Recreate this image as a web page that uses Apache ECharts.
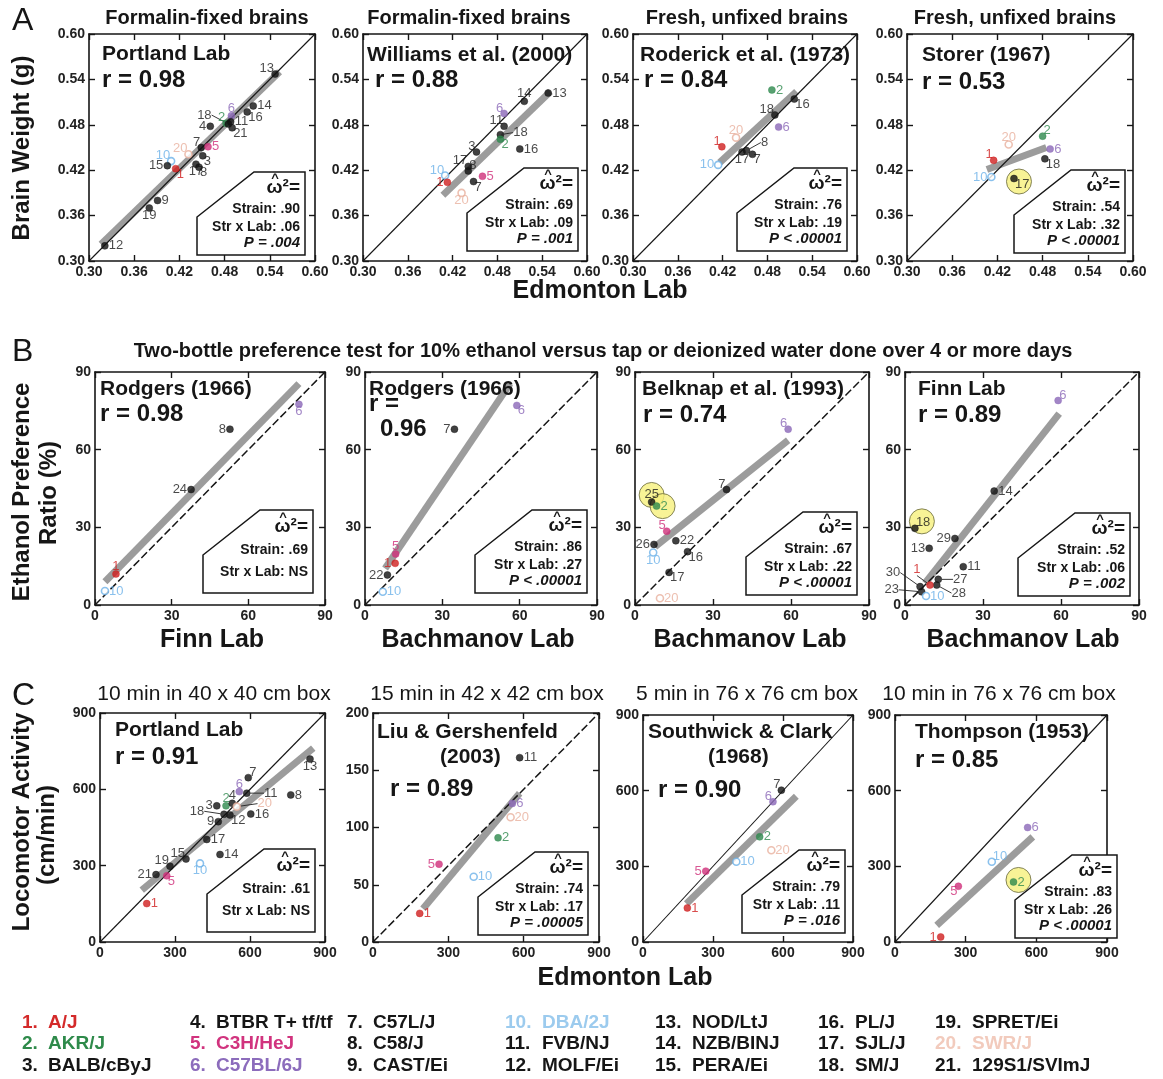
<!DOCTYPE html>
<html><head><meta charset="utf-8">
<script src="https://cdn.jsdelivr.net/npm/echarts/dist/echarts.min.js"></script>
<style>html,body{margin:0;padding:0;background:#fff}#c{width:1163px;height:1079px}</style>
</head><body><div id="c"></div>
<script>
// ---------------- DATA ----------------
// [strain, x (reference lab), y (other lab)]
const A1_pts = [[13,0.547,0.547],[14,0.518,0.505],[16,0.510,0.497],[6,0.489,0.492],[2,0.482,0.482],[11,0.488,0.484],[21,0.490,0.476],[18,0.485,0.481],[4,0.461,0.478],[7,0.449,0.450],[5,0.458,0.451],[20,0.432,0.441],[3,0.451,0.439],[10,0.409,0.432],[15,0.404,0.426],[1,0.415,0.422],[17,0.442,0.428],[8,0.446,0.424],[9,0.391,0.380],[19,0.380,0.370],[12,0.321,0.320]];
const A2_pts = [[13,0.548,0.522],[14,0.516,0.511],[6,0.489,0.495],[11,0.489,0.478],[18,0.484,0.467],[2,0.484,0.461],[16,0.510,0.448],[3,0.452,0.444],[17,0.441,0.425],[8,0.441,0.419],[5,0.460,0.412],[7,0.448,0.405],[10,0.410,0.413],[1,0.413,0.404],[20,0.432,0.390]];
const A3_pts = [[2,0.486,0.526],[16,0.516,0.514],[18,0.490,0.493],[6,0.495,0.477],[20,0.438,0.463],[1,0.419,0.451],[8,0.452,0.446],[7,0.460,0.441],[17,0.446,0.444],[10,0.414,0.427]];
const A4_pts = [[2,0.480,0.465],[6,0.490,0.448],[20,0.435,0.454],[1,0.415,0.433],[18,0.483,0.435],[10,0.412,0.411],[17,0.442,0.409]];
const B1_pts = [[6,79.8,77.5],[8,52.8,67.9],[24,37.6,44.6],[1,8.2,12.0],[10,3.9,5.4]];
const B2_pts = [[6,58.9,77.1],[7,34.7,67.9],[5,11.9,19.7],[1,11.7,16.1],[22,8.7,11.6],[10,6.9,5.1]];
const B3_pts = [[6,58.9,67.9],[7,35.2,44.6],[25,6.4,39.8],[2,8.3,38.2],[5,12.2,28.5],[26,7.3,23.4],[22,15.7,24.8],[10,7.0,20.3],[16,20.2,20.6],[17,13.1,12.6],[20,9.6,2.6]];
const B4_pts = [[6,58.9,79.0],[14,34.3,44.0],[18,3.8,29.6],[29,19.2,25.7],[13,9.3,21.9],[11,22.4,14.8],[27,12.8,9.9],[28,12.2,7.7],[1,9.6,7.7],[30,5.8,7.1],[23,6.4,5.1],[10,8.1,3.5]];
const C1_pts = [[13,840,719],[7,593,646],[8,763,578],[6,557,591],[11,587,585],[2,504,535],[4,529,545],[3,467,535],[20,547,532],[18,496,502],[12,520,499],[16,603,503],[9,473,473],[17,427,403],[15,344,326],[14,480,344],[19,280,298],[10,400,309],[21,224,265],[5,267,260],[1,187,151]];
const C2_pts = [[11,584,161],[6,555,121],[20,548,109],[2,498,91],[5,263,68],[10,401,57],[1,186,25]];
const C3_pts = [[7,593,602],[6,557,556],[2,500,417],[20,550,364],[10,400,318],[5,269,281],[1,190,135]];
const C4_pts = [[6,563,454],[10,411,318],[2,503,238],[5,269,221],[1,194,20]];

// regression (gray band) end points
const A1_fit = [[0.316,0.322],[0.553,0.550]];
const A2_fit = [[0.407,0.387],[0.551,0.524]];
const A3_fit = [[0.416,0.430],[0.519,0.524]];
const A4_fit = [[0.406,0.421],[0.485,0.450]];
const B1_fit = [[3.9,9.0],[79.8,85.5]];
const B2_fit = [[7.8,14.1],[56.3,85.5]];
const B3_fit = [[7.7,22.5],[58.9,63.6]];
const B4_fit = [[7.7,8.4],[59.3,73.9]];
const C1_fit = [[167,204],[853,762]];
const C2_fit = [[199,29],[584,130]];
const C3_fit = [[186,152],[657,578]];
const C4_fit = [[177,66],[585,417]];

// highlighted (yellow) strains
const A4_hl = [17];
const B3_hl = [25, 2];
const B4_hl = [18];
const C4_hl = [2];

// axis ranges [min, max, interval]
const rangeBrain = [0.30, 0.60, 0.06];
const rangeEthanol = [0, 90, 30];
const rangeLoco = [0, 900, 300];
const rangeLiuY = [0, 200, 50];

// texts
const panelNames = ['Portland Lab','Williams et al. (2000)','Roderick et al. (1973)','Storer (1967)',
  'Rodgers (1966)','Rodgers (1966)','Belknap et al. (1993)','Finn Lab',
  'Portland Lab','Liu & Gershenfeld|(2003)','Southwick & Clark|(1968)','Thompson (1953)'];
const rValues = ['0.98','0.88','0.84','0.53','0.98','0.96','0.74','0.89','0.91','0.89','0.90','0.85'];
const omegaStrain = ['.90','.69','.76','.54','.69','.86','.67','.52','.61','.74','.79','.83'];
const omegaStrLab = ['.06','.09','.19','.32','NS','.27','.22','.06','NS','.17','.11','.26'];
const pTexts = ['P = .004','P = .001','P < .00001','P < .00001','','P < .00001','P < .00001','P = .002','','P = .00005','P = .016','P < .00001'];
const rowASubtitles = ['Formalin-fixed brains','Formalin-fixed brains','Fresh, unfixed brains','Fresh, unfixed brains'];
const rowCSubtitles = ['10 min in 40 x 40 cm box','15 min in 42 x 42 cm box','5 min in 76 x 76 cm box','10 min in 76 x 76 cm box'];
const rowBHeader = 'Two-bottle preference test for 10% ethanol versus tap or deionized water done over 4 or more days';
const rowBXTitles = ['Finn Lab','Bachmanov Lab','Bachmanov Lab','Bachmanov Lab'];
const strainNames = ['A/J','AKR/J','BALB/cByJ','BTBR T+ tf/tf','C3H/HeJ','C57BL/6J','C57L/J','C58/J','CAST/Ei','DBA/2J','FVB/NJ','MOLF/Ei','NOD/LtJ','NZB/BINJ','PERA/Ei','PL/J','SJL/J','SM/J','SPRET/Ei','SWR/J','129S1/SVImJ'];

// ---------------- STYLE / LAYOUT ----------------
const FONT = '"Liberation Sans", Arial, Helvetica, sans-serif';
const pointColor = {1:'#d01f1f',2:'#2e8a4d',5:'#cf2f7b',6:'#8b68b8',10:'#6db2e8',20:'#e9b09d'};
const legendColor = {1:'#d42a2a',2:'#2e8a4a',5:'#d1337e',6:'#8c6cbc',10:'#9ccbee',20:'#f2cbbd'};
const hollow = {10:true, 20:true};

// label placement codes per strain
const A1_lab = {13:'tl',14:'r',16:'br',6:'t',2:'tl',11:'r',21:'br',18:[-24,-9],4:'l',7:'tl',5:'r',20:'tl',3:'br',10:'tl',15:'l',1:'br',17:'b',8:'br',9:'r',19:'b',12:'r'};
const A2_lab = {13:'r',14:'t',6:'tl',11:'tl',18:[20,-2],2:'br',16:'r',3:'tl',17:'tl',8:'tr',5:'r',7:'br',10:'tl',1:'l',20:'b'};
const A3_lab = {2:'r',16:'br',18:'tl',6:'r',20:'t',1:'tl',8:[18,-8],7:'br',17:'b',10:'l'};
const A4_lab = {2:'tr',6:'r',20:'t',1:'tl',18:'br',10:'l',17:'br'};
const B1_lab = {6:'b',8:'l',24:'l',1:'t',10:'r'};
const B2_lab = {6:'br',7:'l',5:'t',1:'l',22:'l',10:'r'};
const B3_lab = {6:'tl',7:'tl',25:'t',2:'r',5:'tl',26:'l',22:'r',10:'b',16:'br',17:'br',20:'r'};
const B4_lab = {6:'tr',14:'r',18:'tr',29:'l',13:'l',11:'r',27:[22,0],28:[22,8],1:[-13,-16],30:[-27,-14],23:[-30,-2],10:'r'};
const C1_lab = {13:'b',7:'tr',8:'r',6:'t',11:[24,0],2:'t',4:'t',3:'l',20:[28,-3],18:[-27,-3],12:'br',16:'r',9:'l',17:'r',15:'tl',14:'r',19:'tl',10:'b',21:'l',5:'br',1:'r'};
const C2_lab = {11:'r',6:'r',20:'r',2:'r',5:'l',10:'r',1:'r'};
const C3_lab = {7:'tl',6:'tl',2:'r',20:'r',10:'r',5:'l',1:'r'};
const C4_lab = {6:'r',10:'tr',2:'r',5:'bl',1:'l'};

const panels = [
 {rect:[89,34,226,227], xr:rangeBrain, yr:rangeBrain, dec:2, pts:A1_pts, fit:A1_fit, lab:A1_lab, hl:[], hlOff:{}, dash:false, box:[10,6,108], tl:[[13,20.5]], rl:[[13,46]]},
 {rect:[363,34,224,227], xr:rangeBrain, yr:rangeBrain, dec:2, pts:A2_pts, fit:A2_fit, lab:A2_lab, hl:[], hlOff:{}, dash:false, box:[9,10,111], tl:[[4,21.5]], rl:[[12,46]]},
 {rect:[633,34,224,227], xr:rangeBrain, yr:rangeBrain, dec:2, pts:A3_pts, fit:A3_fit, lab:A3_lab, hl:[], hlOff:{}, dash:false, box:[10,10,110], tl:[[7,21.5]], rl:[[11,46]]},
 {rect:[907,34,226,227], xr:rangeBrain, yr:rangeBrain, dec:2, pts:A4_pts, fit:A4_fit, lab:A4_lab, hl:A4_hl, hlOff:{17:[5,3]}, dash:false, box:[8,8,111], tl:[[15,21.5]], rl:[[15,48]]},
 {rect:[95,372,230,233], xr:rangeEthanol, yr:rangeEthanol, dec:0, pts:B1_pts, fit:B1_fit, lab:B1_lab, hl:[], hlOff:{}, dash:true, box:[12,12,110], tl:[[5,17.5]], rl:[[5,42]]},
 {rect:[365,372,232,233], xr:rangeEthanol, yr:rangeEthanol, dec:0, pts:B2_pts, fit:B2_fit, lab:B2_lab, hl:[], hlOff:{}, dash:true, box:[10,12,112], tl:[[4,17.5]], rl:[[4,32],[15,57]]},
 {rect:[635,372,234,233], xr:rangeEthanol, yr:rangeEthanol, dec:0, pts:B3_pts, fit:B3_fit, lab:B3_lab, hl:B3_hl, hlOff:{25:[0,-7],2:[6,0]}, dash:true, box:[12,10,111], tl:[[7,17.5]], rl:[[8,43]]},
 {rect:[905,372,234,233], xr:rangeEthanol, yr:rangeEthanol, dec:0, pts:B4_pts, fit:B4_fit, lab:B4_lab, hl:B4_hl, hlOff:{18:[7,-7]}, dash:true, box:[9,9,112], tl:[[13,17.5]], rl:[[13,43]]},
 {rect:[100,713,225,229], xr:rangeLoco, yr:rangeLoco, dec:0, pts:C1_pts, fit:C1_fit, lab:C1_lab, hl:[], hlOff:{}, dash:false, box:[10,10,108], tl:[[15,17.5]], rl:[[15,44]]},
 {rect:[373,713,226,229], xr:rangeLoco, yr:rangeLiuY, dec:0, pts:C2_pts, fit:C2_fit, lab:C2_lab, hl:[], hlOff:{}, dash:true, box:[11,7,110], tl:[[4,19.5],[67,44.5]], rl:[[17,76]]},
 {rect:[643,715,210,227], xr:rangeLoco, yr:rangeLoco, dec:0, pts:C3_pts, fit:C3_fit, lab:C3_lab, hl:[], hlOff:{}, dash:false, box:[8,9,103], tl:[[5,17.5],[65,42.5]], rl:[[15,75]]},
 {rect:[895,715,212,227], xr:rangeLoco, yr:rangeLoco, dec:0, pts:C4_pts, fit:C4_fit, lab:C4_lab, hl:C4_hl, hlOff:{2:[5,-2]}, dash:false, box:[-10,4,102], tl:[[20,17.5]], rl:[[20,45]]}
];

// ---------------- BUILD ----------------
const grids = [], xAxes = [], yAxes = [], series = [], gfx = [];
const ink = '#161616';

function txt(x, y, text, o) {
  o = o || {};
  const align = o.align || 'left', va = o.va || 'middle';
  return {type:'text', x:x, y:y, rotation:o.rot || 0, z:100, silent:true,
    style:{text:text, fill:o.color || ink,
      font:(o.italic ? 'italic ' : '') + (o.weight || 'bold') + ' ' + (o.size || 14) + 'px ' + FONT,
      textAlign:align, align:align, textVerticalAlign:va, verticalAlign:va}};
}

function axis(dim, pos, gi, r, dec, showLabel) {
  return {gridIndex:gi, type:'value', position:pos, min:r[0], max:r[1], interval:r[2],
    axisLine:{show:true, onZero:false, lineStyle:{color:ink, width:1.6}},
    axisTick:{show:true, inside:true, length:6, lineStyle:{color:ink, width:1.4}},
    splitLine:{show:false},
    axisLabel:{show:showLabel, showMinLabel:true, showMaxLabel:true, margin:4, color:'#222', fontSize:14, fontWeight:'bold', fontFamily:FONT,
      formatter:function(v){ return dec ? v.toFixed(dec) : String(Math.round(v)); }}};
}

function makeLayout(pts, lab) {
  return function (p) {
    const s = pts[p.dataIndex][0];
    const c = lab[s] || 'r';
    if (Array.isArray(c)) return {dx:c[0], dy:c[1]};
    const w = p.labelRect.width / 2, h = p.labelRect.height / 2;
    const diag = c.length === 2;
    let dx = 0, dy = 0;
    if (c.indexOf('r') >= 0) dx = w + (diag ? 1 : 4);
    if (c.indexOf('l') >= 0) dx = -(w + (diag ? 1 : 4));
    if (c.indexOf('t') >= 0) dy = -(h + (diag ? -1 : 1));
    if (c.indexOf('b') >= 0) dy = h + (diag ? -1 : 1);
    return {dx:dx, dy:dy};
  };
}

panels.forEach(function (p, i) {
  const [L, T, W, H] = p.rect;
  grids.push({left:L, top:T, width:W, height:H, show:false});
  xAxes.push(axis('x','bottom',i,p.xr,p.dec,true), axis('x','top',i,p.xr,p.dec,false));
  yAxes.push(axis('y','left',i,p.yr,p.dec,true), axis('y','right',i,p.yr,p.dec,false));
  const xi = 2 * i, yi = 2 * i;

  series.push({type:'line', xAxisIndex:xi, yAxisIndex:yi, data:p.fit, symbol:'none', silent:true, z:1,
    lineStyle:{color:'#9c9c9c', width:7, cap:'butt'}});
  series.push({type:'line', xAxisIndex:xi, yAxisIndex:yi, data:[[p.xr[0],p.yr[0]],[p.xr[1],p.yr[1]]], symbol:'none', silent:true, z:2,
    lineStyle:{color:ink, width:p.dash ? 1.5 : 1.1, type:p.dash ? [8,3] : 'solid'}});
  if (p.hl.length) {
    series.push({type:'scatter', xAxisIndex:xi, yAxisIndex:yi, silent:true, z:3, symbolSize:25,
      itemStyle:{color:'#f6f07c', borderColor:'#66663a', borderWidth:1},
      data:p.hl.map(function (s) {
        const pt = p.pts.find(function (q) { return q[0] === s; });
        return {value:[pt[1], pt[2]], symbolOffset:p.hlOff[s] || [0,0]};
      })});
  }
  series.push({type:'scatter', xAxisIndex:xi, yAxisIndex:yi, silent:true, z:4, symbolSize:7,
    label:{show:true, position:'inside', fontSize:13, fontFamily:FONT, formatter:function (d) { return d.name; }},
    labelLine:{show:false, lineStyle:{color:'#222', width:0.9}},
    labelLayout:makeLayout(p.pts, p.lab),
    data:p.pts.map(function (q) {
      const s = q[0], col = pointColor[s] || '#111';
      const item = {name:String(s), value:[q[1], q[2]],
        itemStyle: hollow[s] ? {color:'#ffffff', borderColor:col, borderWidth:1.6} : {color:col, borderColor:col, borderWidth:0.5},
        label:{color: pointColor[s] || '#1a1a1a'}};
      if (Array.isArray(p.lab[s])) item.labelLine = {show:true, lineStyle:{color:'#222', width:0.9}};
      return item;
    })});

  // titles inside panel
  const names = panelNames[i].split('|');
  names.forEach(function (n, k) { gfx.push(txt(L + p.tl[k][0], T + p.tl[k][1], n, {size:21})); });
  if (p.rl.length === 2) {
    gfx.push(txt(L + p.rl[0][0], T + p.rl[0][1], 'r =', {size:24}));
    gfx.push(txt(L + p.rl[1][0], T + p.rl[1][1], rValues[i], {size:24}));
  } else {
    gfx.push(txt(L + p.rl[0][0], T + p.rl[0][1], 'r = ' + rValues[i], {size:24}));
  }

  // omega box
  const bw = p.box[2], bh = 83, br = L + W - p.box[0], bb = T + H - p.box[1];
  const bl = br - bw, bt = bb - bh;
  gfx.push({type:'polygon', z:90, silent:true,
    shape:{points:[[bl + 57, bt], [br, bt], [br, bb], [bl, bb], [bl, bt + 45]]},
    style:{fill:'#ffffff', stroke:ink, lineWidth:1.5}});
  const hasP = pTexts[i] !== '';
  const tx = br - 5;
  const oy = bt + (hasP ? 16 : 17);
  gfx.push(txt(tx, oy, 'ω\u00b2=', {align:'right', size:19}));
  gfx.push(txt(tx - 25, oy - 10, '^', {align:'center', size:13}));
  gfx.push(txt(tx, bt + (hasP ? 37 : 40), 'Strain: ' + omegaStrain[i], {align:'right', size:14}));
  gfx.push(txt(tx, bt + (hasP ? 55 : 62), 'Str x Lab: ' + omegaStrLab[i], {align:'right', size:14}));
  if (hasP) gfx.push(txt(tx, bt + 71, pTexts[i], {align:'right', size:15, italic:true}));
});

// panel letters
gfx.push(txt(12, 21, 'A', {size:32, weight:'normal'}));
gfx.push(txt(12, 352, 'B', {size:32, weight:'normal'}));
gfx.push(txt(12, 696, 'C', {size:32, weight:'normal'}));

// row A subtitles
[207, 469, 747, 1015].forEach(function (cx, k) { gfx.push(txt(cx, 18, rowASubtitles[k], {align:'center', size:20})); });
// row C subtitles
[214, 487, 747, 999].forEach(function (cx, k) { gfx.push(txt(cx, 694, rowCSubtitles[k], {align:'center', size:21, weight:'normal'})); });
// row B header
gfx.push(txt(603, 351, rowBHeader, {align:'center', size:20}));

// axis titles
gfx.push(txt(22, 148, 'Brain Weight (g)', {align:'center', size:24, rot:Math.PI / 2}));
gfx.push(txt(600, 291, 'Edmonton Lab', {align:'center', size:25}));
gfx.push(txt(22, 492, 'Ethanol Preference', {align:'center', size:24, rot:Math.PI / 2}));
gfx.push(txt(49, 493, 'Ratio (%)', {align:'center', size:24, rot:Math.PI / 2}));
[212, 478, 750, 1023].forEach(function (cx, k) { gfx.push(txt(cx, 640, rowBXTitles[k], {align:'center', size:25})); });
gfx.push(txt(22, 822, 'Locomotor Activity', {align:'center', size:24, rot:Math.PI / 2}));
gfx.push(txt(47, 835, '(cm/min)', {align:'center', size:24, rot:Math.PI / 2}));
gfx.push(txt(625, 978, 'Edmonton Lab', {align:'center', size:25}));

// strain legend
const colX = [22, 190, 347, 505, 655, 818, 935];
const rowY = [1023, 1044, 1066];
strainNames.forEach(function (name, k) {
  const n = k + 1, c = Math.floor(k / 3), r = k % 3;
  const col = legendColor[n] || ink;
  gfx.push(txt(colX[c], rowY[r], n + '.', {size:19, color:col}));
  gfx.push(txt(colX[c] + (n < 10 ? 26 : 37), rowY[r], name, {size:19, color:col}));
});

const chart = echarts.init(document.getElementById('c'), null, {renderer:'canvas'});
chart.setOption({animation:false, backgroundColor:'#ffffff', grid:grids, xAxis:xAxes, yAxis:yAxes, series:series, graphic:{elements:gfx}});
</script></body></html>
